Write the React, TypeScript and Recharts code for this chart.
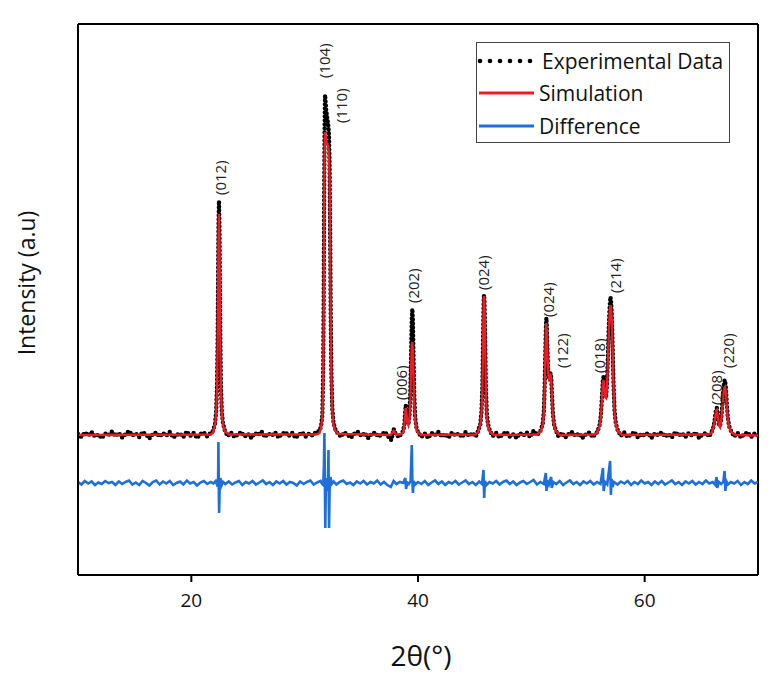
import { ComposedChart, Line, Scatter, XAxis, YAxis, ReferenceLine } from 'recharts';

const FONT = '"Open Sans", "DejaVu Sans", sans-serif';
const EXP_COLOR = '#000000';
const SIM_COLOR = '#ec1c24';
const DIFF_COLOR = '#1e6fd9';

// [2θ (deg), intensity (a.u.)], baseline of the measured pattern at 0
const experimental: [number, number][] = [
  [10.0, 10], [10.3, -20], [10.6, 25], [10.9, -5], [11.2, 30], [11.5, -15], [11.8, 5], [12.1, -30], [12.4, 15], [12.7, 0],
  [13.0, 35], [13.3, -10], [13.6, 20], [13.9, -25], [14.2, 10], [14.5, 40], [14.8, -5], [15.1, 15], [15.4, -20], [15.7, 30],
  [16.0, 5], [16.3, -35], [16.6, 10], [16.9, 25], [17.2, -15], [17.5, 20], [17.8, -5], [18.1, 30], [18.4, -25], [18.7, 0],
  [19.0, 15], [19.3, -20], [19.6, 35], [19.9, -10], [20.2, 20], [20.5, -30], [20.8, 10], [21.1, 25], [21.4, -15], [21.7, 20],
  [21.9, 40], [22.09, 110], [22.19, 230], [22.27, 510], [22.32, 940], [22.36, 1520], [22.4, 2110], [22.44, 2340],
  [22.48, 2100], [22.52, 1500], [22.56, 930], [22.61, 500], [22.69, 230], [22.79, 120], [22.94, 50],
  [23.2, -10], [23.5, 25], [23.8, -20], [24.1, 5], [24.4, 30], [24.7, -15], [25.0, 10], [25.3, -30], [25.6, 20], [25.9, 0],
  [26.2, 35], [26.5, -20], [26.8, 15], [27.1, -5], [27.4, 25], [27.7, -25], [28.0, 10], [28.3, 30], [28.6, -10], [28.9, 20],
  [29.2, -30], [29.5, 5], [29.8, 25], [30.1, -15], [30.4, 15], [30.7, -5], [31.0, 30],
  [31.3, 40], [31.45, 90], [31.56, 200], [31.63, 600], [31.68, 1400], [31.72, 2400], [31.76, 3100], [31.8, 3400],
  [31.85, 3330], [31.9, 3250], [31.96, 3200], [32.02, 3150], [32.08, 3100], [32.14, 3020], [32.2, 2700], [32.25, 2000],
  [32.3, 1200], [32.36, 600], [32.44, 260], [32.55, 120], [32.7, 60],
  [32.9, 20], [33.2, -15], [33.5, 25], [33.8, 0], [34.1, -25], [34.4, 15], [34.7, 30], [35.0, -10], [35.3, 20], [35.6, -30],
  [35.9, 10], [36.2, 25], [36.5, -15], [36.8, 5], [37.1, 30], [37.4, -20], [37.65, -50], [37.85, 60], [38.05, 5], [38.35, -20],
  [38.55, 20],
  [38.7, 40], [38.8, 110], [38.86, 220], [38.92, 300], [38.98, 240], [39.05, 140], [39.15, 110], [39.25, 200], [39.33, 450],
  [39.4, 850], [39.45, 1150], [39.5, 1260], [39.55, 1150], [39.6, 800], [39.67, 400], [39.75, 180], [39.85, 80], [40.0, 30],
  [40.3, -20], [40.6, 15], [40.9, -30], [41.2, 20], [41.5, 0], [41.8, 30], [42.1, -15], [42.4, 10], [42.7, -25], [43.0, 25],
  [43.3, -5], [43.6, 15], [43.9, -20], [44.2, 30], [44.5, -10], [44.8, 20], [45.1, -15],
  [45.3, 40], [45.5, 110], [45.6, 230], [45.68, 480], [45.73, 860], [45.77, 1180], [45.8, 1360], [45.83, 1400],
  [45.86, 1350], [45.9, 1150], [45.94, 850], [45.99, 470], [46.07, 220], [46.17, 110], [46.35, 40],
  [46.6, -10], [46.9, 20], [47.2, -25], [47.5, 10], [47.8, 30], [48.1, -15], [48.4, 5], [48.7, -30], [49.0, 20], [49.3, -5],
  [49.6, 25], [49.9, -20], [50.2, 45], [50.5, 0],
  [50.8, 40], [51.0, 110], [51.1, 230], [51.18, 500], [51.24, 850], [51.29, 1100], [51.33, 1170], [51.37, 1080],
  [51.42, 850], [51.48, 650], [51.55, 580], [51.62, 600], [51.7, 620], [51.76, 560], [51.82, 400], [51.9, 220],
  [52.0, 110], [52.15, 50],
  [52.4, -15], [52.7, 20], [53.0, -25], [53.3, 10], [53.6, 30], [53.9, -10], [54.2, 15], [54.5, -30], [54.8, 5], [55.1, 25],
  [55.4, -20], [55.7, 10],
  [55.85, 40], [56.05, 110], [56.15, 220], [56.24, 400], [56.31, 540], [56.37, 580], [56.44, 510], [56.52, 400],
  [56.6, 390], [56.68, 520], [56.76, 800], [56.84, 1100], [56.92, 1300], [56.98, 1380], [57.04, 1340], [57.1, 1200],
  [57.17, 900], [57.25, 520], [57.34, 250], [57.45, 120], [57.62, 50],
  [57.9, -10], [58.2, 25], [58.5, -20], [58.8, 5], [59.1, 30], [59.4, -25], [59.7, 10], [60.0, -5], [60.3, 20], [60.6, -30],
  [60.9, 15], [61.2, 0], [61.5, 25], [61.8, -15], [62.1, 10], [62.4, -25], [62.7, 30], [63.0, -5], [63.3, 15], [63.6, -20],
  [63.9, 20], [64.2, -10], [64.5, 25], [64.8, -30], [65.1, 5], [65.4, 20], [65.7, -15],
  [65.9, 30], [66.1, 90], [66.22, 190], [66.3, 260], [66.37, 270], [66.45, 200], [66.55, 110], [66.65, 90], [66.75, 160],
  [66.85, 300], [66.95, 460], [67.03, 540], [67.09, 550], [67.16, 480], [67.24, 330], [67.33, 180], [67.45, 90], [67.62, 40],
  [67.9, -15], [68.2, 20], [68.5, -25], [68.8, 10], [69.1, 25], [69.4, -20], [69.7, 15], [70.0, -5],
];

// fitted profile
const simulation: [number, number][] = [
  [10.0, 0], [21.7, 5],
  [21.9, 20], [22.09, 100], [22.19, 210], [22.27, 480], [22.32, 880], [22.36, 1430], [22.4, 1990], [22.44, 2210],
  [22.48, 1980], [22.52, 1420], [22.56, 870], [22.61, 470], [22.69, 210], [22.79, 100], [22.94, 40], [23.3, 5],
  [31.0, 5], [31.3, 20], [31.45, 70], [31.56, 170], [31.63, 520], [31.68, 1250], [31.72, 2200], [31.76, 2850],
  [31.8, 3030], [31.85, 2990], [31.9, 2940], [31.96, 2910], [32.02, 2900], [32.08, 2890], [32.14, 2830], [32.2, 2550],
  [32.25, 1900], [32.3, 1120], [32.36, 560], [32.44, 230], [32.55, 100], [32.7, 40], [33.0, 10],
  [37.6, 0], [37.85, 40], [38.1, 0],
  [38.55, 10], [38.7, 30], [38.8, 100], [38.86, 200], [38.92, 270], [38.98, 220], [39.05, 130], [39.15, 100],
  [39.25, 170], [39.33, 380], [39.4, 700], [39.45, 900], [39.5, 930], [39.55, 850], [39.6, 600], [39.67, 320],
  [39.75, 150], [39.85, 60], [40.0, 20], [40.3, 0],
  [45.1, 5], [45.3, 30], [45.5, 100], [45.6, 210], [45.68, 450], [45.73, 830], [45.77, 1160], [45.8, 1350],
  [45.83, 1390], [45.86, 1340], [45.9, 1130], [45.94, 820], [45.99, 440], [46.07, 200], [46.17, 90], [46.35, 30], [46.7, 0],
  [50.5, 5], [50.8, 30], [51.0, 100], [51.1, 210], [51.18, 470], [51.24, 810], [51.29, 1060], [51.33, 1120],
  [51.37, 1040], [51.42, 820], [51.48, 630], [51.55, 570], [51.62, 590], [51.7, 600], [51.76, 540], [51.82, 380],
  [51.9, 200], [52.0, 100], [52.15, 40], [52.5, 0],
  [55.6, 5], [55.85, 30], [56.05, 100], [56.15, 200], [56.24, 370], [56.31, 510], [56.37, 550], [56.44, 480],
  [56.52, 380], [56.6, 370], [56.68, 490], [56.76, 750], [56.84, 1040], [56.92, 1230], [56.98, 1300], [57.04, 1270],
  [57.1, 1140], [57.17, 860], [57.25, 490], [57.34, 230], [57.45, 110], [57.62, 40], [58.0, 0],
  [65.6, 5], [65.9, 20], [66.1, 80], [66.22, 170], [66.3, 240], [66.37, 250], [66.45, 190], [66.55, 100], [66.65, 80],
  [66.75, 140], [66.85, 270], [66.95, 410], [67.03, 470], [67.09, 480], [67.16, 430], [67.24, 300], [67.33, 160],
  [67.45, 80], [67.62, 30], [68.0, 0], [70.0, -5],
];

// residual, drawn shifted below the pattern
const difference: [number, number][] = [
  [10.0, -470], [10.3, -495], [10.6, -460], [10.9, -485], [11.2, -465], [11.5, -500], [11.8, -475], [12.1, -490], [12.4, -460], [12.7, -480],
  [13.0, -470], [13.3, -500], [13.6, -465], [13.9, -490], [14.2, -470], [14.5, -455], [14.8, -495], [15.1, -475], [15.4, -500], [15.7, -460],
  [16.0, -480], [16.3, -505], [16.6, -470], [16.9, -455], [17.2, -495], [17.5, -465], [17.8, -485], [18.1, -460], [18.4, -500], [18.7, -480],
  [19.0, -465], [19.3, -495], [19.6, -455], [19.9, -485], [20.2, -470], [20.5, -505], [20.8, -475], [21.1, -460], [21.4, -490], [21.7, -470],
  [21.95, -485], [22.15, -460], [22.28, -500], [22.36, -490], [22.39, -70], [22.42, -470], [22.45, -780], [22.5, -520],
  [22.57, -430], [22.66, -505], [22.8, -470],
  [23.0, -490], [23.3, -465], [23.6, -495], [23.9, -475], [24.2, -460], [24.5, -500], [24.8, -470], [25.1, -485], [25.4, -460], [25.7, -495],
  [26.0, -475], [26.3, -455], [26.6, -490], [26.9, -470], [27.2, -500], [27.5, -465], [27.8, -485], [28.1, -460], [28.4, -495], [28.7, -470],
  [29.0, -480], [29.3, -505], [29.6, -465], [29.9, -490], [30.2, -470], [30.5, -455], [30.8, -495], [31.1, -475], [31.4, -460], [31.55, -490],
  [31.64, -500], [31.7, -300], [31.74, 20], [31.78, -420], [31.82, -930], [31.87, -520], [31.93, -560], [32.0, -430],
  [32.06, -470], [32.1, -150], [32.15, -930], [32.2, -560], [32.28, -420], [32.38, -490], [32.55, -465],
  [32.8, -495], [33.1, -470], [33.4, -455], [33.7, -490], [34.0, -475], [34.3, -500], [34.6, -465], [34.9, -485], [35.2, -460], [35.5, -495],
  [35.8, -470], [36.1, -485], [36.4, -455], [36.7, -495], [37.0, -470], [37.3, -500], [37.6, -520], [37.85, -460], [38.1, -490], [38.4, -470],
  [38.7, -480], [38.88, -430], [38.95, -540], [39.05, -475], [39.2, -490], [39.35, -460], [39.45, -100], [39.5, -440],
  [39.55, -580], [39.62, -460], [39.75, -495],
  [40.0, -470], [40.3, -490], [40.6, -460], [40.9, -500], [41.2, -475], [41.5, -455], [41.8, -490], [42.1, -465], [42.4, -500], [42.7, -470],
  [43.0, -485], [43.3, -460], [43.6, -495], [43.9, -475], [44.2, -455], [44.5, -490], [44.8, -470], [45.1, -500], [45.4, -465], [45.65, -490],
  [45.78, -350], [45.84, -630], [45.9, -460], [46.05, -500], [46.3, -470],
  [46.6, -485], [46.9, -460], [47.2, -495], [47.5, -470], [47.8, -455], [48.1, -490], [48.4, -465], [48.7, -500], [49.0, -475], [49.3, -460],
  [49.6, -490], [49.9, -470], [50.2, -450], [50.5, -495], [50.8, -470], [51.1, -490], [51.28, -380], [51.34, -560], [51.4, -450], [51.55, -495],
  [51.75, -420], [51.8, -530], [51.95, -470], [52.2, -490], [52.5, -460], [52.8, -500], [53.1, -475], [53.4, -455], [53.7, -490], [54.0, -470],
  [54.3, -500], [54.6, -465], [54.9, -485], [55.2, -460], [55.5, -495], [55.8, -470], [56.1, -490], [56.32, -330], [56.38, -560], [56.5, -470],
  [56.7, -495], [56.95, -260], [57.02, -600], [57.08, -440], [57.15, -520], [57.3, -470], [57.6, -495],
  [57.9, -465], [58.2, -485], [58.5, -460], [58.8, -500], [59.1, -470], [59.4, -490], [59.7, -455], [60.0, -485], [60.3, -470], [60.6, -500],
  [60.9, -465], [61.2, -490], [61.5, -460], [61.8, -495], [62.1, -475], [62.4, -455], [62.7, -490], [63.0, -470], [63.3, -500], [63.6, -465],
  [63.9, -485], [64.2, -460], [64.5, -495], [64.8, -470], [65.1, -490], [65.4, -455], [65.7, -485], [66.0, -470], [66.2, -495], [66.35, -420],
  [66.4, -530], [66.55, -470], [66.75, -490], [66.95, -465], [67.05, -360], [67.12, -560], [67.2, -460], [67.35, -495], [67.6, -470],
  [67.9, -485], [68.2, -460], [68.5, -500], [68.8, -470], [69.1, -490], [69.4, -455], [69.7, -485], [70.0, -470],
];

// Miller indices and where each tag sits (2θ, intensity at the foot of the text)
const peakHkl = ['(012)', '(104)', '(110)', '(006)', '(202)', '(024)', '(024)', '(122)', '(018)', '(214)', '(208)', '(220)'];
const peakTagTheta = [22.53, 31.7, 33.2, 38.5, 39.56, 45.74, 51.47, 52.7, 55.97, 57.38, 66.3, 67.35];
const peakTagIntensity = [2400, 3570, 3120, 350, 1320, 1450, 1180, 670, 620, 1420, 300, 670];

const xTicks = [20, 40, 60];
const xDomain: [number, number] = [10, 70];
const yDomain: [number, number] = [-1400, 4110];

const legendItems = [
  { label: 'Experimental Data', color: EXP_COLOR, dotted: true },
  { label: 'Simulation', color: SIM_COLOR, dotted: false },
  { label: 'Difference', color: DIFF_COLOR, dotted: false },
];

const toPoints = (rows: [number, number][]) => rows.map(([x, y]) => ({ x, y }));

const expData = toPoints(experimental);
const simData = toPoints(simulation);
const diffData = toPoints(difference);
const tagData = peakHkl.map((hkl, i) => ({ x: peakTagTheta[i], y: peakTagIntensity[i], hkl }));

const PeakTag = (props: any) => {
  const { cx, cy, payload } = props;
  if (cx == null || cy == null) return null;
  return (
    <text
      x={cx}
      y={cy}
      transform={`rotate(-90 ${cx} ${cy})`}
      textAnchor="start"
      dominantBaseline="central"
      fontSize={15}
      fontFamily={FONT}
      fill="#222"
    >
      {payload.hkl}
    </text>
  );
};

const XTitle = () => (
  <text x={421} y={655} textAnchor="middle" dominantBaseline="central" fontSize={28} fontFamily={FONT} fill="#111">
    2θ(°)
  </text>
);

const YTitle = () => (
  <text
    x={26}
    y={283}
    transform="rotate(-90 26 283)"
    textAnchor="middle"
    dominantBaseline="central"
    fontSize={23}
    fontFamily={FONT}
    fill="#111"
  >
    Intensity (a.u)
  </text>
);

function LegendBox() {
  return (
    <div
      style={{
        position: 'absolute',
        left: 476,
        top: 42,
        width: 254,
        height: 101,
        border: '1px solid #444',
        boxSizing: 'border-box',
        background: '#fff',
        fontFamily: FONT,
        fontSize: 21,
        color: '#111',
      }}
    >
      {legendItems.map((item, i) => (
        <div
          key={item.label}
          style={{ position: 'absolute', left: 0, top: [3, 35, 68][i], height: 30, display: 'flex', alignItems: 'center' }}
        >
          <svg width={62} height={30} style={{ display: 'block' }}>
            {item.dotted ? (
              [3, 13, 23, 33, 43, 53].map((cx) => <circle key={cx} cx={cx} cy={15} r={2.3} fill={item.color} />)
            ) : (
              <line x1={2} x2={57} y1={15} y2={15} stroke={item.color} strokeWidth={3} />
            )}
          </svg>
          <span style={{ marginLeft: item.dotted ? 3 : 0, whiteSpace: 'nowrap' }}>{item.label}</span>
        </div>
      ))}
    </div>
  );
}

export default function App() {
  return (
    <div style={{ position: 'absolute', left: 0, top: 0, width: 775, height: 689, background: '#fff' }}>
      <ComposedChart width={775} height={689} margin={{ top: 24, right: 17, left: 0, bottom: 54 }}>
        <XAxis
          type="number"
          dataKey="x"
          domain={xDomain}
          ticks={xTicks}
          allowDataOverflow
          height={60}
          tickSize={7}
          tickMargin={12}
          axisLine={{ stroke: '#000', strokeWidth: 2 }}
          tickLine={{ stroke: '#000', strokeWidth: 2 }}
          tick={{ fill: '#111', fontSize: 19, fontFamily: FONT }}
          label={{ content: XTitle }}
        />
        <YAxis
          type="number"
          dataKey="y"
          domain={yDomain}
          allowDataOverflow
          width={78}
          tick={false}
          tickLine={false}
          axisLine={{ stroke: '#000', strokeWidth: 2 }}
          label={{ content: YTitle }}
        />
        <ReferenceLine x={70} stroke="#000" strokeWidth={2} />
        <ReferenceLine y={4110} stroke="#000" strokeWidth={2} />
        <Line
          data={diffData}
          dataKey="y"
          type="linear"
          stroke={DIFF_COLOR}
          strokeWidth={2.6}
          dot={false}
          isAnimationActive={false}
        />
        <Line
          data={expData}
          dataKey="y"
          type="linear"
          stroke={EXP_COLOR}
          strokeWidth={4.4}
          strokeDasharray="0 4"
          strokeLinecap="round"
          dot={false}
          isAnimationActive={false}
        />
        <Line
          data={simData}
          dataKey="y"
          type="linear"
          stroke={SIM_COLOR}
          strokeWidth={2.4}
          dot={false}
          isAnimationActive={false}
        />
        <Scatter data={tagData} dataKey="y" shape={PeakTag} isAnimationActive={false} />
      </ComposedChart>
      <LegendBox />
    </div>
  );
}
